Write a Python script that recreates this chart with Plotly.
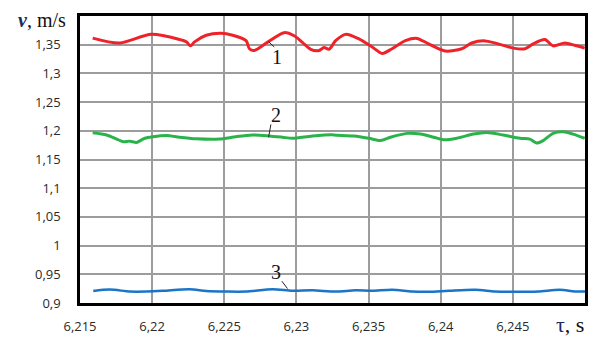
import plotly.graph_objects as go

# Curve 1 (red)
t1 = [6.21588, 6.21776, 6.21995, 6.22190, 6.22237, 6.22266, 6.22294, 6.22375, 6.22478,
      6.22558, 6.22651, 6.22674, 6.22708, 6.22798, 6.22915, 6.22984, 6.23041, 6.23099,
      6.23157, 6.23191, 6.23226, 6.23272, 6.23341, 6.23433, 6.23525, 6.23594, 6.23663,
      6.23755, 6.23835, 6.23916, 6.24031, 6.24146, 6.24215, 6.24296, 6.24399, 6.24503,
      6.24584, 6.24641, 6.24722, 6.24779, 6.24860, 6.24929, 6.24998]
v1 = [1.3615, 1.353, 1.368, 1.359, 1.355, 1.348, 1.355, 1.3665, 1.370,
      1.3665, 1.357, 1.343, 1.340, 1.354, 1.371, 1.3655, 1.354, 1.342,
      1.340, 1.345, 1.342, 1.357, 1.368, 1.360, 1.346, 1.3348, 1.343,
      1.357, 1.361, 1.3515, 1.339, 1.343, 1.353, 1.357, 1.3515, 1.344,
      1.343, 1.3515, 1.359, 1.348, 1.353, 1.349, 1.344]

# Curve 2 (green)
t2 = [6.21588, 6.21685, 6.21754, 6.21799, 6.21846, 6.21892, 6.21949, 6.22006, 6.22099,
      6.22190, 6.22305, 6.22466, 6.22581, 6.22696, 6.22811, 6.22903, 6.22972, 6.23110,
      6.23248, 6.23261, 6.23399, 6.23502, 6.23583, 6.23652, 6.23767, 6.23859, 6.23951,
      6.24020, 6.24112, 6.24227, 6.24319, 6.24434, 6.24549, 6.24618, 6.24664, 6.24710,
      6.24779, 6.24848, 6.24917, 6.24998]
v2 = [1.1965, 1.1926, 1.1855, 1.181, 1.182, 1.1798, 1.187, 1.1898, 1.192,
      1.1888, 1.186, 1.1855, 1.1898, 1.1926, 1.191, 1.1888, 1.187, 1.191,
      1.1932, 1.1926, 1.191, 1.187, 1.183, 1.1888, 1.1955, 1.1943, 1.1888,
      1.1843, 1.187, 1.1943, 1.1971, 1.1926, 1.187, 1.1855, 1.1788, 1.183,
      1.1955, 1.1982, 1.1943, 1.187]

# Curve 3 (blue)
t3 = [6.21592, 6.21707, 6.21845, 6.21960, 6.22075, 6.22259, 6.22375, 6.22513, 6.22651,
      6.22835, 6.22973, 6.23110, 6.23272, 6.23410, 6.23525, 6.23663, 6.23801, 6.23916,
      6.24054, 6.24238, 6.24376, 6.24491, 6.24675, 6.24825, 6.24929, 6.25000]
v3 = [0.921, 0.9234, 0.920, 0.920, 0.9212, 0.9239, 0.921, 0.920, 0.920,
      0.9239, 0.9212, 0.922, 0.920, 0.922, 0.9212, 0.923, 0.920, 0.9195,
      0.9212, 0.923, 0.920, 0.9195, 0.920, 0.923, 0.920, 0.920]

x_ticks = [6.215, 6.22, 6.225, 6.23, 6.235, 6.24, 6.245]
x_labels = ["6,215", "6,22", "6,225", "6,23", "6,235", "6,24", "6,245"]
y_ticks = [0.9, 0.95, 1.0, 1.05, 1.1, 1.15, 1.2, 1.25, 1.3, 1.35]
y_labels = ["0,9", "0,95", "1", "1,05", "1,1", "1,15", "1,2", "1,25", "1,3", "1,35"]

# curve labels: text position and leader line endpoints (data coords)
label_text = ["1", "2", "3"]
label_pos = [(6.22867, 1.328), (6.22860, 1.2278), (6.22858, 0.9535)]
leader_lines = [((6.22807, 1.3553), (6.22846, 1.346)),
                ((6.22823, 1.211), (6.22807, 1.1888)),
                ((6.22899, 0.938), (6.22938, 0.9251))]

fig = go.Figure()
fig.add_trace(go.Scatter(x=t1, y=v1, mode="lines",
                         line=dict(color="#ee2229", width=3, shape="spline", smoothing=0.8)))
fig.add_trace(go.Scatter(x=t2, y=v2, mode="lines",
                         line=dict(color="#2bb34b", width=3, shape="spline", smoothing=0.8)))
fig.add_trace(go.Scatter(x=t3, y=v3, mode="lines",
                         line=dict(color="#1a74c8", width=2.5, shape="spline", smoothing=0.8)))

tick_font = dict(family="Open Sans, sans-serif", size=13, color="#2a2a2a")
fig.update_xaxes(range=[6.215, 6.25], tickvals=x_ticks, ticktext=x_labels,
                 showgrid=True, gridcolor="#9c9c9c", gridwidth=1.5,
                 showline=True, linecolor="black", linewidth=2.5, mirror=True,
                 ticks="outside", ticklen=10, tickcolor="rgba(0,0,0,0)",
                 tickfont=tick_font, zeroline=False)
fig.update_yaxes(range=[0.9, 1.4], tickvals=y_ticks, ticktext=y_labels,
                 showgrid=True, gridcolor="#9c9c9c", gridwidth=1.5,
                 showline=True, linecolor="black", linewidth=2.5, mirror=True,
                 ticks="outside", ticklen=14, tickcolor="rgba(0,0,0,0)",
                 tickfont=tick_font, zeroline=False)

serif = "Liberation Serif, Times New Roman, serif"
for lab, (tx, ty), ((x0, y0), (x1, y1)) in zip(label_text, label_pos, leader_lines):
    fig.add_shape(type="line", x0=x0, y0=y0, x1=x1, y1=y1, xref="x", yref="y",
                  line=dict(color="#222", width=1))
    fig.add_annotation(x=tx, y=ty, xref="x", yref="y", text=lab, showarrow=False,
                       font=dict(family=serif, size=20, color="#111"))

fig.add_annotation(xref="paper", yref="paper", x=-0.126, y=0.985, xanchor="left", yanchor="middle",
                   text="<b><i><span style='color:#1b2a66'>v</span></i></b>, m/s",
                   showarrow=False, font=dict(family=serif, size=20, color="#111"))
fig.add_annotation(xref="paper", yref="paper", x=1.002, y=-0.074, xanchor="right", yanchor="middle",
                   text="<span style='color:#1b2a66'>τ</span>, s",
                   showarrow=False, font=dict(family=serif, size=22, color="#111"))

fig.update_layout(width=600, height=347, margin=dict(l=80, r=13, t=16, b=32),
                  paper_bgcolor="white", plot_bgcolor="white", showlegend=False)
fig.write_html("out.html", config={"displayModeBar": False},
               post_script="document.body.style.margin='0';document.body.style.overflow='hidden';")
